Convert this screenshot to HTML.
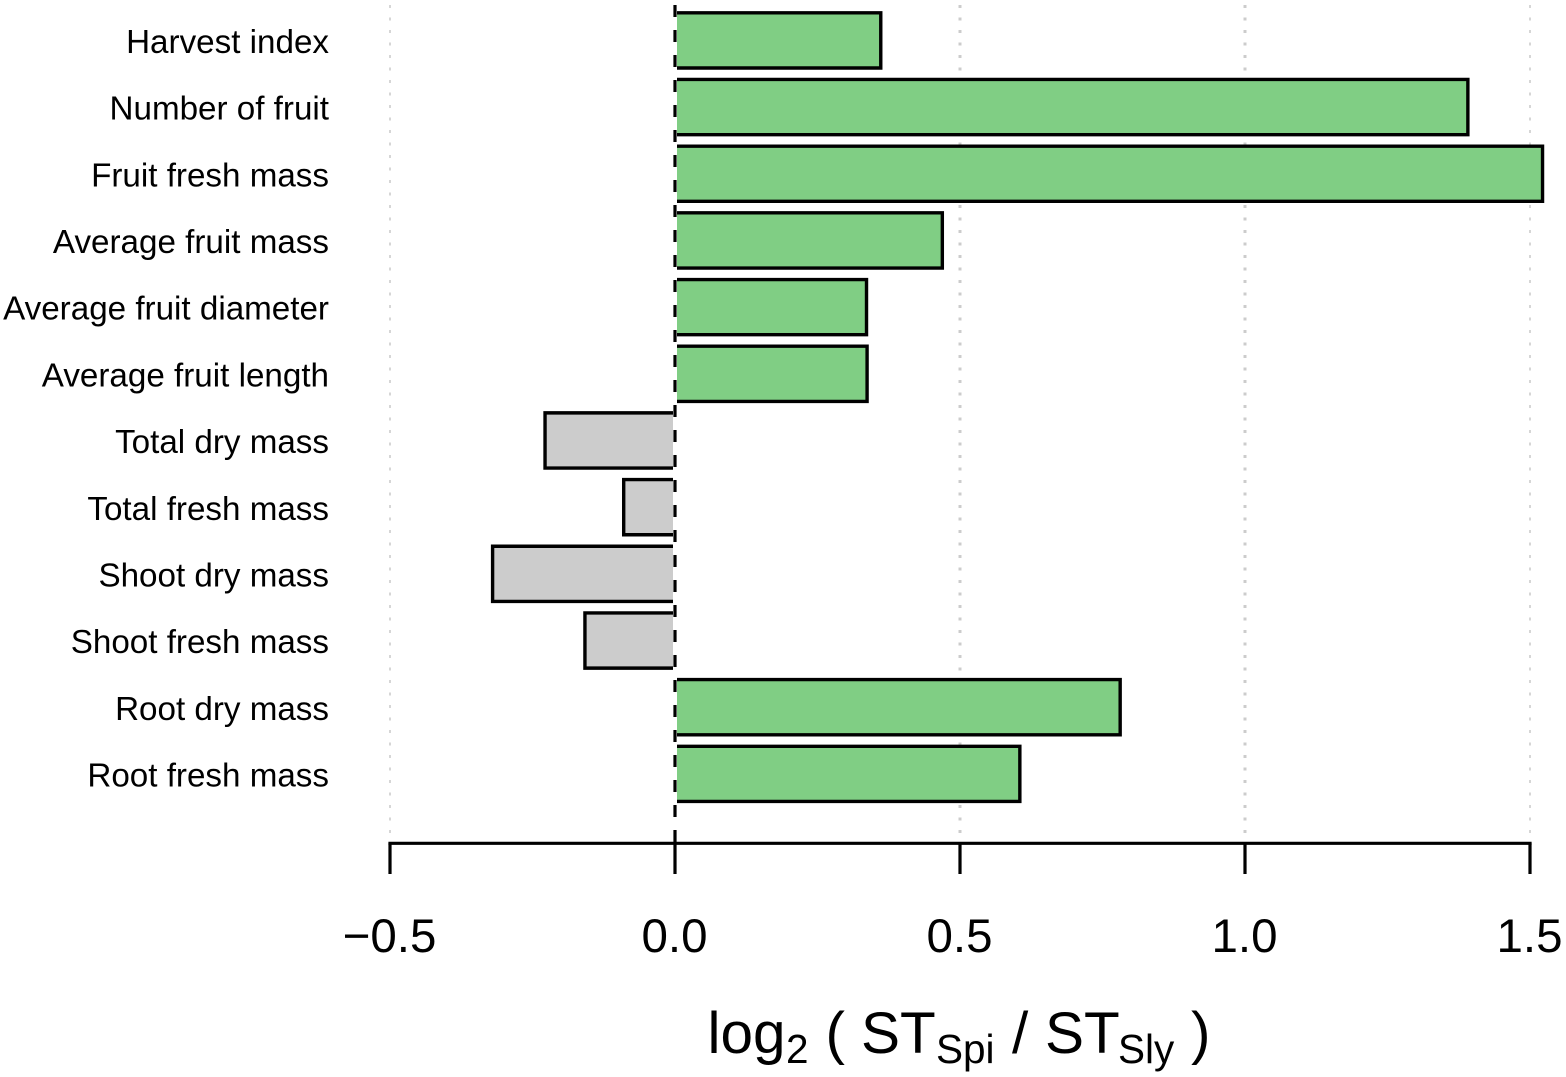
<!DOCTYPE html>
<html lang="en">
<head>
<meta charset="utf-8">
<title>log2 ST ratio bar chart</title>
<style>
html,body{margin:0;padding:0;background:#fff;width:1566px;height:1077px;overflow:hidden}
svg{display:block}
text{font-family:"Liberation Sans",Arial,sans-serif;fill:#000}
</style>
</head>
<body>
<svg id="chart" xmlns="http://www.w3.org/2000/svg" width="1566" height="1077" viewBox="0 0 1566 1077">
  <rect x="0" y="0" width="1566" height="1077" fill="#fff"/>
  <g id="grid"></g>
  <g id="bars"></g>
  <g id="labels"></g>
  <g id="axis"></g>
  <text y="1053" font-size="58.5"><tspan x="707.5">log</tspan><tspan x="786" y="1063" font-size="40.5">2</tspan><tspan x="825.5" y="1053">(</tspan><tspan x="861">ST</tspan><tspan x="936" y="1063" font-size="40.5">Spi</tspan><tspan x="1012" y="1053">/</tspan><tspan x="1045">ST</tspan><tspan x="1118" y="1063" font-size="40.5">Sly</tspan><tspan x="1191" y="1053">)</tspan></text>
</svg>
<script>
const categories = ["Harvest index","Number of fruit","Fruit fresh mass","Average fruit mass","Average fruit diameter","Average fruit length","Total dry mass","Total fresh mass","Shoot dry mass","Shoot fresh mass","Root dry mass","Root fresh mass"];
const values = [0.361,1.391,1.522,0.469,0.336,0.337,-0.228,-0.09,-0.32,-0.158,0.781,0.605];
const tickValues = [-0.5,0,0.5,1,1.5];
const tickLabels = ["\u22120.5","0.0","0.5","1.0","1.5"];

const NS = "http://www.w3.org/2000/svg";
const xScale = v => 675 + 570 * v;
const yCenter = i => 40.4 + 66.68 * i;
const BAR_HALF = 27.6;
const ZERO_GAP = 2;
const AXIS_Y = 843.3;
const TICK_END = 874;

function make(tag, attrs, parent) {
  const el = document.createElementNS(NS, tag);
  for (const k in attrs) el.setAttribute(k, attrs[k]);
  parent.appendChild(el);
  return el;
}
const grid = document.getElementById("grid");
const bars = document.getElementById("bars");
const labels = document.getElementById("labels");
const axis = document.getElementById("axis");

tickValues.forEach(function (t) {
  if (t === 0) return;
  const thin = t === tickValues[0] || t === tickValues[tickValues.length - 1];
  const line = make("line", {x1: xScale(t), x2: xScale(t), y1: 5, y2: 835, stroke: "#cccccc", "stroke-width": thin ? 1.6 : 3, "stroke-dasharray": "3 9.5"}, grid);
  
  
});

values.forEach(function (v, i) {
  const sign = v >= 0 ? 1 : -1;
  const x0 = xScale(0) + sign * ZERO_GAP;
  const x1 = xScale(v);
  const top = yCenter(i) - BAR_HALF;
  const bottom = yCenter(i) + BAR_HALF;
  const bar = make("path", {d: "M" + x0 + " " + top + "H" + x1 + "V" + bottom + "H" + x0, fill: v >= 0 ? "#80ce84" : "#cccccc", stroke: "#000", "stroke-width": 3.4, "stroke-linejoin": "miter"}, bars);
  
  
});

categories.forEach(function (c, i) {
  const label = make("text", {x: 329, y: yCenter(i) + 12.6, "text-anchor": "end", "font-size": 33.2}, labels);
  label.textContent = c;
  
  
});

const zeroLine = make("line", {x1: xScale(0), x2: xScale(0), y1: 5, y2: AXIS_Y, stroke: "#000", "stroke-width": 3.2, "stroke-dasharray": "12 13"}, axis);



const axisLine = make("line", {x1: xScale(tickValues[0]), x2: xScale(tickValues[tickValues.length - 1]), y1: AXIS_Y, y2: AXIS_Y, stroke: "#000", "stroke-width": 3.2, "stroke-linecap": "square"}, axis);



tickValues.forEach(function (t, i) {
  const tick = make("line", {x1: xScale(t), x2: xScale(t), y1: AXIS_Y, y2: TICK_END, stroke: "#000", "stroke-width": 3.2}, axis);
  
  
  const tl = make("text", {x: xScale(t) - 0.5, y: 952, "text-anchor": "middle", "font-size": 47.5}, axis);
  tl.textContent = tickLabels[i];
  
  
});
</script>
</body>
</html>
